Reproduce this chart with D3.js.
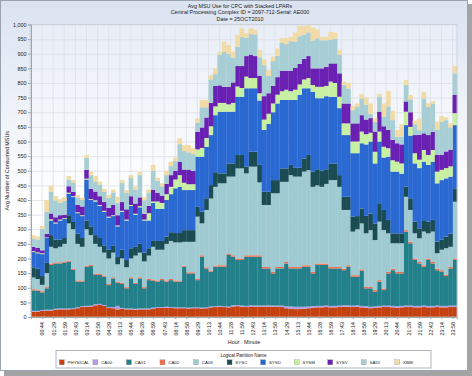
<!DOCTYPE html>
<html>
<head>
<meta charset="utf-8">
<script src="https://cdn.jsdelivr.net/npm/d3@7"></script>
<style>
body { margin: 0; background: #fff; }
text { font-family: "Liberation Sans", Arial, sans-serif; fill: #222; }
</style>
</head>
<body>
<div id="chart"></div>
<script>
// 15 minute intervals, 25OCT2010
var times = ["00:14","00:29","00:44","00:59","01:14","01:29","01:44","01:59","02:13","02:28","02:43","02:58",
  "03:14","03:29","03:44","03:58","04:14","04:29","04:44","04:58","05:13","05:28","05:44","05:59",
  "06:13","06:28","06:44","06:59","07:14","07:28","07:43","07:58","08:14","08:29","08:44","08:58",
  "09:14","09:29","09:44","09:58","10:13","10:29","10:44","10:59","11:13","11:28","11:44","11:59",
  "12:13","12:28","12:43","12:58","13:14","13:29","13:44","13:58","14:14","14:29","14:44","14:58",
  "15:13","15:28","15:44","15:59","16:13","16:28","16:44","16:59","17:14","17:28","17:43","17:58",
  "18:14","18:29","18:44","18:58","19:14","19:29","19:44","19:58","20:13","20:29","20:44","20:59",
  "21:13","21:28","21:44","21:59","22:13","22:28","22:43","22:58","23:14","23:29","23:44","23:58"];

var tickLabels = ["00:44","01:29","01:59","02:43","03:14","03:58","04:29","05:13","05:44","06:28","06:59","07:43",
  "08:14","08:58","09:29","10:13","10:44","11:28","11:59","12:43","13:14","13:58","14:29","15:13","15:44",
  "16:28","16:59","17:43","18:14","18:58","19:29","20:13","20:44","21:28","21:59","22:43","23:14","23:58"];

var yTicks = [0,50,100,150,200,250,300,350,400,450,500,550,600,650,700,750,800,850,900,950,1000];

var physical = [18,18,21,22,22,25,26,26,26,27, 30,34,35,36,40,41,38,31,30,26, 28,26,26,25,26,26,26,29,31,31,
  32,31,30,30,30,29,30,30,29,30, 33,34,35,34,33,36,37,35,34,36, 35,35,35,36,35,35,34,30,28,27,
  27,28,30,32,33,33,34,33,33,34, 35,35,34,35,33,32,30,31,33,34, 34,33,32,33,34,34,33,33,34,33, 33,34,33,33,34,34];
var ca00 = [3,3,3,3,3,3,3,3,3,3, 3,3,3,3,4,4,3,3,4,12, 3,3,3,3,3,3,3,3,3,3,
  3,3,3,3,3,3,3,3,3,3, 3,3,3,3,3,4,4,4,4,4, 4,4,4,4,4,4,5,7,8,8,
  8,7,6,5,5,5,5,5,5,5, 5,5,5,5,5,5,5,5,5,5, 5,5,5,5,5,5,5,5,5,5, 5,5,5,5,5,5];
var ca01 = [70,69,60,73,153,155,154,157,160,131, 88,84,134,135,100,99,97,75,98,79, 82,69,103,85,103,69,97,92,87,92,
  86,92,88,88,139,117,116,93,174,133, 119,135,134,135,176,166,154,156,168,166, 167,167,127,126,110,127,127,146,130,131,
  131,137,136,112,140,140,139,128,128,127, 120,132,99,98,120,61,63,51,83,53, 110,122,112,111,253,213,157,145,133,157,
  145,121,117,102,127,156];
var ca02 = [4,4,4,4,5,4,4,4,4,4, 4,4,4,4,4,4,4,4,4,4, 4,4,4,4,4,4,4,4,4,4,
  4,4,4,4,4,4,4,4,5,4, 4,4,5,5,5,5,5,5,5,5, 5,5,5,5,5,5,5,5,5,5,
  5,5,5,5,5,5,5,5,5,5, 5,5,5,5,5,5,5,5,5,5, 5,5,5,5,5,5,5,5,5,5, 5,5,5,5,5,5];
var ca03 = [40,36,22,48,57,48,53,60,127,135, 125,115,124,102,102,92,78,87,84,59, 83,68,64,93,84,88,80,112,105,100,
  125,130,130,130,81,104,104,213,109,196, 246,269,280,280,263,269,308,308,280,303, 303,249,212,212,269,252,291,274,314,309,
  309,320,325,291,267,262,272,297,297,274, 201,189,149,157,157,183,194,171,200,200, 132,87,98,98,114,109,86,81,115,86,
  104,53,70,90,69,194];
var sysc = [35,35,30,35,40,30,25,20,28,25, 35,30,30,30,30,30,25,30,25,25, 30,25,35,30,30,30,25,20,30,30,
  25,30,32,32,40,40,40,34,40,40, 46,50,34,34,45,45,46,46,23,51, 51,60,45,45,45,45,46,46,35,30,
  30,45,52,52,55,55,50,57,57,40, 45,45,51,45,51,60,57,57,63,69, 46,34,34,34,35,40,40,34,39,40,
  40,40,35,40,45,46];
var sysd = [52,53,75,85,50,55,65,65,74,85, 70,75,140,90,115,110,115,110,100,105, 130,135,145,110,125,110,95,130,110,110,
  125,130,153,158,137,137,137,171,188,176, 171,195,211,211,177,177,199,199,268,217, 217,220,212,232,232,262,234,234,222,232,
  250,240,228,273,243,248,250,228,228,229, 211,211,217,215,223,244,246,205,211,179, 216,211,211,204,210,214,199,206,200,194,
  199,199,203,199,195,216];
var sysm = [3,3,3,2,4,3,3,3,3,3, 3,3,3,3,4,3,3,3,3,3, 3,3,3,3,4,3,25,5,25,20,
  20,25,30,40,25,20,20,25,30,30, 30,30,30,30,25,30,35,30,40,35, 35,25,35,35,30,30,30,35,30,35,
  35,30,35,23,39,39,35,52,47,39, 40,40,40,40,40,35,30,40,34,37, 29,39,34,35,46,30,35,29,40,34,
  40,40,35,35,35,41];
var sysv = [15,15,10,12,20,18,15,12,22,15, 25,30,30,35,30,30,30,30,35,35, 30,35,30,35,30,20,25,40,30,25,
  35,40,30,45,45,50,45,60,70,70, 80,70,60,55,60,70,70,75,70,80, 75,60,80,70,60,60,70,65,70,75,
  70,70,75,57,63,63,65,62,67,80, 68,68,62,62,56,50,50,69,68,70, 63,70,63,65,35,50,62,85,57,68,
  62,57,52,57,57,62];
var sadi = [28,29,73,76,74,58,43,47,23,30, 26,22,41,47,33,40,35,34,43,43, 65,56,62,48,76,46,46,65,41,32,
  30,31,33,61,64,59,58,31,69,35, 80,40,105,119,113,85,66,99,63,70, 74,63,106,59,85,73,96,91,101,90,
  95,83,81,95,103,96,91,80,85,63, 63,51,45,56,57,51,15,33,50,33, 80,67,22,27,56,44,37,16,119,96,
  97,86,112,107,76,74];
var xbbi = [12,10,10,40,20,15,12,12,12,10, 8,8,10,12,20,10,10,10,10,20, 10,10,10,10,12,10,10,20,10,10,
  15,15,12,20,20,25,20,15,25,25, 15,20,10,35,30,20,40,30,15,20, 15,25,20,20,15,25,15,20,15,30,
  35,30,25,45,30,12,12,28,20,17, 12,20,14,12,15,25,35,12,10,45, 53,32,23,42,17,15,12,40,23,12,
  8,28,20,10,14,25];

var keys = ["PHYSICAL","CA00","CA01","CA02","CA03","SYSC","SYSD","SYSM","SYSV","SADI","XBBI"];
var seriesValues = [physical, ca00, ca01, ca02, ca03, sysc, sysd, sysm, sysv, sadi, xbbi];
var colors = ["#c4400f","#b59de6","#22808b","#ee6e4e","#9fcad1","#1b4c53","#2a68d2","#c8f0a2","#6a20b2","#a7ced5","#f1dba6"];

var rows = times.map(function (t, i) {
	var r = { time: t };
	keys.forEach(function (k, j) { r[k] = seriesValues[j][i]; });
	return r;
});

var width = 472, height = 376;
var plot = { left: 31, right: 457, top: 24.5, bottom: 317 };

var svg = d3.select("#chart").append("svg")
	.attr("width", width)
	.attr("height", height);

var defs = svg.append("defs");
var bg = defs.append("linearGradient").attr("id", "bg").attr("x1", 0).attr("y1", 0).attr("x2", 0).attr("y2", 1);
bg.append("stop").attr("offset", "0").attr("stop-color", "#dbe3f1");
bg.append("stop").attr("offset", "0.55").attr("stop-color", "#ffffff");
var pbg = defs.append("linearGradient").attr("id", "pbg").attr("x1", 0).attr("y1", 0).attr("x2", 0).attr("y2", 1);
pbg.append("stop").attr("offset", "0").attr("stop-color", "#e8edf7");
pbg.append("stop").attr("offset", "0.6").attr("stop-color", "#ffffff");

// frame with shadow
svg.append("rect").attr("x", 4).attr("y", 4).attr("width", 468).attr("height", 372).attr("fill", "#a4a4a4");
svg.append("rect").attr("x", 0.5).attr("y", 0.5).attr("width", 467).attr("height", 370)
	.attr("fill", "url(#bg)").attr("stroke", "#9aa3b0");

// titles
var titles = ["Avg MSU Use for CPC with Stacked LPARs",
	"Central Processing Complex ID = 2097-712-Serial: AE000",
	"Date = 25OCT2010"];
svg.append("g").selectAll("text").data(titles).join("text")
	.attr("x", 240).attr("y", (d, i) => 7.5 + i * 6.8)
	.attr("text-anchor", "middle")
	.style("font-size", "5.4px")
	.text(d => d);

// scales
var x = d3.scaleBand().domain(times).range([plot.left, plot.right]).padding(0);
var xi = d3.scaleLinear().domain([0, times.length]).range([plot.left, plot.right]);
var y = d3.scaleLinear().domain([0, 1000]).range([plot.bottom, plot.top]);
var tickPos = tickLabels.map((d, k) => 2.5 + 2.5 * k);

svg.append("rect")
	.attr("x", plot.left).attr("y", plot.top)
	.attr("width", plot.right - plot.left).attr("height", plot.bottom - plot.top)
	.attr("fill", "url(#pbg)");

// grid
svg.append("g").selectAll("line").data(yTicks).join("line")
	.attr("x1", plot.left).attr("x2", plot.right)
	.attr("y1", d => y(d) + 0.5).attr("y2", d => y(d) + 0.5)
	.attr("stroke", "#dde0e6").attr("stroke-width", 0.8);
svg.append("g").selectAll("line").data(tickPos).join("line")
	.attr("x1", d => xi(d)).attr("x2", d => xi(d))
	.attr("y1", plot.top).attr("y2", plot.bottom)
	.attr("stroke", "#dde0e6").attr("stroke-width", 0.8);

// stacked bars
var stacked = d3.stack().keys(keys)(rows);
svg.append("g").selectAll("g").data(stacked).join("g")
	.attr("fill", (d, i) => colors[i])
	.selectAll("rect").data(d => d).join("rect")
	.attr("x", d => x(d.data.time))
	.attr("y", d => y(d[1]))
	.attr("width", x.bandwidth() + 0.25)
	.attr("height", d => y(d[0]) - y(d[1]));

// bar highlight edge
var top = stacked[stacked.length - 1];
svg.append("g").selectAll("rect").data(top).join("rect")
	.attr("x", d => x(d.data.time) + 0.2)
	.attr("y", d => y(d[1]))
	.attr("width", 0.9)
	.attr("height", d => y(0) - y(d[1]))
	.attr("fill", "#ffffff").attr("opacity", 0.4);

// plot border
svg.append("rect")
	.attr("x", plot.left).attr("y", plot.top)
	.attr("width", plot.right - plot.left).attr("height", plot.bottom - plot.top)
	.attr("fill", "none").attr("stroke", "#c9cdd5").attr("stroke-width", 0.8);

// y axis
var yAxis = svg.append("g")
	.attr("transform", "translate(" + plot.left + ",0)")
	.call(d3.axisLeft(y).tickValues(yTicks).tickFormat(d3.format(",")).tickSize(3).tickPadding(1.5));
yAxis.select(".domain").attr("stroke", "#a0a4ac");
yAxis.selectAll(".tick line").attr("stroke", "#a0a4ac");
yAxis.selectAll("text").style("font-size", "5.4px").attr("fill", "#222");
svg.append("g")
	.attr("transform", "translate(" + plot.left + ",0)")
	.call(d3.axisLeft(y).ticks(100).tickFormat("").tickSize(1.5))
	.call(g => g.select(".domain").remove())
	.selectAll(".tick line").attr("stroke", "#b4b8c0").attr("stroke-width", 0.6);

// x axis
var xAxis = svg.append("g")
	.attr("transform", "translate(0," + plot.bottom + ")")
	.call(d3.axisBottom(xi).tickValues(tickPos).tickFormat((d, i) => tickLabels[i]).tickSize(2));
xAxis.select(".domain").attr("stroke", "#a0a4ac");
xAxis.selectAll(".tick line").attr("stroke", "#a0a4ac");
xAxis.selectAll("text")
	.style("font-size", "5.4px").attr("fill", "#222")
	.attr("text-anchor", "end")
	.attr("transform", "rotate(-90)")
	.attr("x", -5).attr("y", 0).attr("dy", "0.35em");

// axis titles
svg.append("text")
	.attr("transform", "translate(9," + ((plot.top + plot.bottom) / 2) + ") rotate(-90)")
	.attr("text-anchor", "middle")
	.style("font-size", "5.4px")
	.text("Avg Number of Consumed MSUs");
svg.append("text")
	.attr("x", (plot.left + plot.right) / 2).attr("y", 344)
	.attr("text-anchor", "middle")
	.style("font-size", "5.4px")
	.text("Hour : Minute");

// legend
var legend = svg.append("g");
legend.append("rect").attr("x", 56).attr("y", 350.5).attr("width", 375).attr("height", 17.5)
	.attr("fill", "#fff").attr("stroke", "#b0b5be");
legend.append("text").attr("x", 243.5).attr("y", 356.5).attr("text-anchor", "middle")
	.style("font-size", "4.6px").text("Logical Partition Name");
var item = legend.selectAll("g.item").data(keys).join("g")
	.attr("class", "item")
	.attr("transform", (d, i) => "translate(" + (59.3 + i * 33.55) + ",359.8)");
item.append("rect").attr("width", 5).attr("height", 5)
	.attr("fill", (d, i) => colors[i]).attr("stroke", "#888").attr("stroke-width", 0.3);
item.append("text").attr("x", 8.3).attr("y", 4.3).style("font-size", "4.4px").text(d => d);
</script>
</body>
</html>
